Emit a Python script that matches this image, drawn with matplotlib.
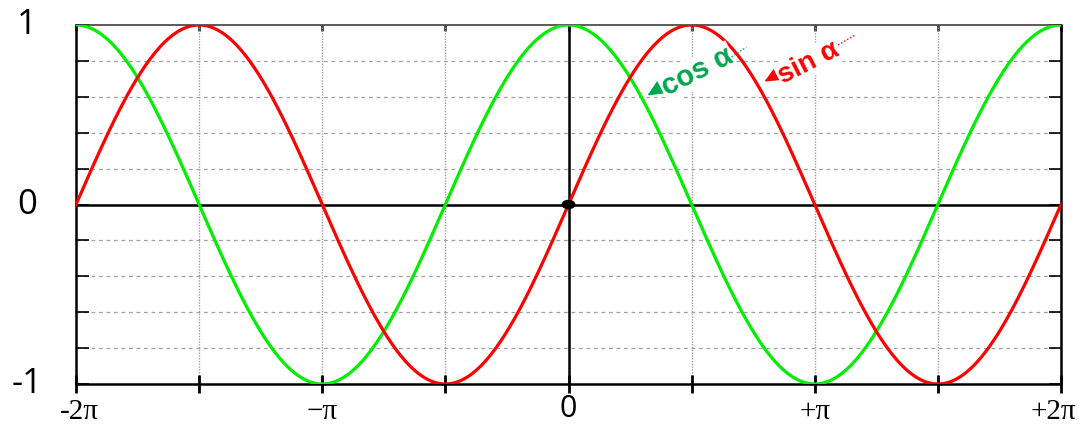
import numpy as np
import matplotlib
matplotlib.use("Agg")
import matplotlib.pyplot as plt
from matplotlib.patches import Ellipse
import matplotlib.transforms as mtransforms

# ---- data ----
x_min, x_max = -2 * np.pi, 2 * np.pi
alpha = np.linspace(x_min, x_max, 1201)
sin_vals = np.sin(alpha)
cos_vals = np.cos(alpha)

xtick_pos = [k * np.pi / 2 for k in range(-4, 5)]
xtick_labels = ["-2\u03c0", "", "\u2212\u03c0", "", "0", "", "+\u03c0", "", "+2\u03c0"]
ytick_pos = [-1, 0, 1]
ytick_labels = ["-1", "0", "1"]
grid_y = [-0.8, -0.6, -0.4, -0.2, 0.2, 0.4, 0.6, 0.8]
minor_y = [round(-1 + 0.2 * i, 1) for i in range(11)]

sin_color = "#ff0000"
cos_color = "#00ee00"

W, H = 1081, 424
fig = plt.figure(figsize=(W / 100, H / 100), dpi=100)
ax = fig.add_axes([76 / W, (H - 384) / H, (1061 - 76) / W, (384 - 25) / H])
ax.set_xlim(x_min, x_max)
ax.set_ylim(-1, 1)

# grid
for gy in grid_y:
    ax.axhline(gy, color="#a0a0a0", lw=0.9, ls=(0, (3, 3)), zorder=1)
for gx in xtick_pos[1:-1]:
    if gx != 0:
        ax.axvline(gx, color="#a0a0a0", lw=1.0, ls=(0, (1, 1)), zorder=1)

# axes through origin
ax.axhline(0, color="black", lw=1.8, zorder=2)
ax.axvline(0, color="black", lw=1.8, zorder=2)

# curves
ax.plot(alpha, cos_vals, color=cos_color, lw=2.3, zorder=3)
ax.plot(alpha, sin_vals, color=sin_color, lw=2.3, zorder=3)

# origin dot
ax.add_patch(Ellipse((0, 0), width=0.16, height=0.045, color="black", zorder=5))

# spines
for s in ["left", "right", "bottom"]:
    ax.spines[s].set_color("black")
    ax.spines[s].set_linewidth(1.8)
ax.spines["top"].set_color("#404040")
ax.spines["top"].set_linewidth(1.2)

# bottom ticks
ax.set_xticks(xtick_pos)
ax.set_xticklabels([])
ax.tick_params(axis="x", which="major", direction="inout", length=13, width=2.0,
               color="black", bottom=True, top=False)
# top small ticks
ax_top = ax.secondary_xaxis("top")
ax_top.set_xticks(xtick_pos)
ax_top.set_xticklabels([])
ax_top.tick_params(direction="in", length=4, width=2, color="#303030")
ax_top.spines["top"].set_visible(False)

# left/right inner ticks
ax.set_yticks(minor_y)
ax.set_yticklabels([])
ax.tick_params(axis="y", direction="in", length=9, width=1.2, color="black",
               left=True, right=True)

# y labels
ytrans = mtransforms.blended_transform_factory(ax.transAxes, ax.transData)
for yp, yl in zip(ytick_pos, ytick_labels):
    ax.text(-0.05, yp, yl, transform=ytrans, ha="center", va="center",
            fontsize=25, family="Open Sans", color="black")

# x labels
xtrans = mtransforms.blended_transform_factory(ax.transData, ax.transAxes)
for i, (xp, xl) in enumerate(zip(xtick_pos, xtick_labels)):
    if not xl:
        continue
    if xl == "0":
        ax.text(xp, -0.07, xl, transform=xtrans, ha="center", va="center",
                fontsize=22, family="Open Sans", color="black", clip_on=False)
    else:
        tr = xtrans
        if i == len(xtick_pos) - 1:
            tr = mtransforms.offset_copy(xtrans, fig=fig, x=-8, y=0, units="dots")
        elif i == 0:
            tr = mtransforms.offset_copy(xtrans, fig=fig, x=3, y=0, units="dots")
        ax.text(xp, -0.078, xl, transform=tr, ha="center", va="center",
                fontsize=21, family="Liberation Serif", color="black", clip_on=False)

# annotations
cos_text_color = "#00a650"
rot = 27
bbox = dict(boxstyle="square,pad=0.05", fc="white", ec="none")
head = "-|>,head_length=1.0,head_width=0.45"
ax.annotate("", xy=(0.976, 0.599), xytext=(1.24, 0.67),
            arrowprops=dict(arrowstyle=head, color=cos_text_color, lw=1.2), zorder=6)
ax.text(1.64, 0.738, "cos \u03b1", color=cos_text_color, fontsize=21, fontweight="bold",
        family=["Liberation Sans", "DejaVu Sans"], rotation=rot, rotation_mode="anchor",
        ha="center", va="center", bbox=bbox, zorder=6)
ax.plot([2.08, 2.27], [0.822, 0.877], color=cos_text_color, lw=1.0, ls=(0, (1, 1.5)), zorder=6)

ax.annotate("", xy=(2.469, 0.677), xytext=(2.72, 0.74),
            arrowprops=dict(arrowstyle=head, color=sin_color, lw=1.2), zorder=6)
ax.text(3.06, 0.79, "sin \u03b1", color=sin_color, fontsize=20, fontweight="bold",
        family=["Liberation Sans", "DejaVu Sans"], rotation=rot, rotation_mode="anchor",
        ha="center", va="center", bbox=bbox, zorder=6)
ax.plot([3.44, 3.66], [0.889, 0.945], color=sin_color, lw=1.0, ls=(0, (1, 1.5)), zorder=6)

fig.savefig("out.png", dpi=100)
